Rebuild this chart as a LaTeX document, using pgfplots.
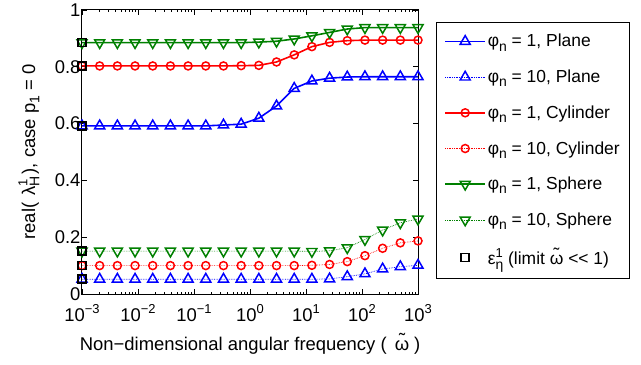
\documentclass[border=0pt]{standalone}
\usepackage{fontspec}
\setmainfont{Liberation Sans}
\usepackage{pgfplots}
\usepackage{pgfplotstable}
\pgfplotsset{compat=1.18}
\definecolor{mgreen}{rgb}{0,0.5,0}
\newcommand{\sub}[1]{\raisebox{-0.45ex}{\fontsize{14}{14}\selectfont #1}}
\newcommand{\sups}[1]{\raisebox{0.8ex}{\fontsize{13}{13}\selectfont #1}}
\newcommand{\wt}{\ooalign{ω\cr\hidewidth\raisebox{0.45ex}{\char"02DC}\hidewidth\cr}}
\pgfplotstableread{
x ps pd cs cd ss sd
0.001 0.592 0.052 0.803 0.100 0.885 0.151
0.0020691 0.592 0.052 0.803 0.100 0.885 0.151
0.0042813 0.592 0.052 0.803 0.100 0.885 0.151
0.0088587 0.592 0.052 0.803 0.100 0.885 0.151
0.018330 0.592 0.052 0.803 0.100 0.885 0.151
0.037927 0.592 0.052 0.803 0.100 0.885 0.151
0.078476 0.592 0.052 0.803 0.100 0.885 0.151
0.16238 0.592 0.052 0.803 0.100 0.885 0.151
0.33598 0.595 0.052 0.803 0.100 0.885 0.151
0.69519 0.598 0.052 0.804 0.100 0.885 0.151
1.4384 0.619 0.052 0.805 0.100 0.887 0.151
2.9764 0.662 0.052 0.817 0.100 0.890 0.151
6.1585 0.724 0.052 0.842 0.100 0.898 0.151
12.743 0.750 0.052 0.871 0.101 0.909 0.150
26.367 0.760 0.053 0.886 0.104 0.921 0.152
54.556 0.764 0.061 0.892 0.114 0.933 0.163
112.88 0.765 0.071 0.894 0.135 0.938 0.192
233.57 0.765 0.088 0.894 0.161 0.938 0.225
483.29 0.765 0.096 0.894 0.180 0.938 0.251
1000 0.765 0.101 0.894 0.187 0.938 0.264
}\data
\pgfplotstableread{
x y
0.001 0.885
0.001 0.803
0.001 0.592
0.001 0.151
0.001 0.100
0.001 0.052
}\lim
\begin{document}
\begin{tikzpicture}
\begin{axis}[
  name=ax,
  at={(0,0)}, anchor=south west,
  scale only axis, width=336bp, height=284bp,
  xmode=log, xmin=1e-3, xmax=1e3, ymin=0, ymax=1,
  xtick={1e-3,1e-2,1e-1,1,1e1,1e2,1e3},
  xticklabels={10\sups{−3},10\sups{−2},10\sups{−1},10\sups{0},10\sups{1},10\sups{2},10\sups{3}},
  ytick={0,0.2,0.4,0.6,0.8,1},
  yticklabels={0,0.2,0.4,0.6,0.8,1},
  tick align=inside,
  major tick length=5bp, minor tick length=2.5bp,
  every tick/.style={black, line width=0.6pt},
  axis line style={line width=1pt},
  tick label style={font=\fontsize{18.5}{20}\selectfont},
  yticklabel style={xshift=2bp},
  xticklabel style={yshift=-7bp},
  xlabel={Non−dimensional angular frequency (\hspace{0.45em}\wt\hspace{0.25em})},
  ylabel={real(\hspace{0.4em}λ\rlap{\sups{1}}\sub{H}\hspace{0.1em}), case p\sub{1} = 0},
  every axis x label/.style={at={(rel axis cs:0.5,-0.2007)}, anchor=base, font=\fontsize{18.5}{20}\selectfont},
  every axis y label/.style={at={(rel axis cs:-0.158,0.5)}, rotate=90, anchor=center, font=\fontsize{18.5}{20}\selectfont},
  clip=false,
  legend cell align=left,
  legend style={at={(1.054,0.958)}, anchor=north west, draw=black, line width=0.8pt,
    font=\fontsize{17.5}{19}\selectfont, row sep=17.6bp, inner xsep=8bp, inner ysep=10bp},
  legend image code/.code={\draw[#1, mark repeat=2, mark phase=2] plot coordinates {(0cm,0cm)(0.7cm,0cm)(1.4cm,0cm)};},
]
\addplot[blue, line width=1.6pt, mark=triangle, mark size=5.8bp, mark options={solid, line width=1.5pt}] table[x=x,y=ps]{\data};
\addlegendentry{φ\sub{n} = 1, Plane}
\addplot[blue, densely dotted, line width=0.7pt, mark=triangle, mark size=5.8bp, mark options={solid, line width=1.5pt}] table[x=x,y=pd]{\data};
\addlegendentry{φ\sub{n} = 10, Plane}
\addplot[red, line width=1.6pt, mark=o, mark size=4bp, mark options={solid, line width=1.5pt}] table[x=x,y=cs]{\data};
\addlegendentry{φ\sub{n} = 1, Cylinder}
\addplot[red, densely dotted, line width=0.7pt, mark=o, mark size=4bp, mark options={solid, line width=1.5pt}] table[x=x,y=cd]{\data};
\addlegendentry{φ\sub{n} = 10, Cylinder}
\addplot[mgreen, line width=1.6pt, mark=triangle, mark size=5.8bp, mark options={solid, rotate=180, line width=1.5pt}] table[x=x,y=ss]{\data};
\addlegendentry{φ\sub{n} = 1, Sphere}
\addplot[mgreen, densely dotted, line width=0.7pt, mark=triangle, mark size=5.8bp, mark options={solid, rotate=180, line width=1.5pt}] table[x=x,y=sd]{\data};
\addlegendentry{φ\sub{n} = 10, Sphere}
\addplot[black, only marks, mark=square, mark size=4bp, mark options={line width=1.6pt}] table[x=x,y=y]{\lim};
\addlegendentry{ε\rlap{\sups{1}}\sub{η} (limit \wt\ <{}< 1)}
\end{axis}
\pgfresetboundingbox
\path[use as bounding box] ([shift={(-82bp,-71bp)}]ax.south west) rectangle ([shift={(559bp,294bp)}]ax.south west);
\end{tikzpicture}
\end{document}
